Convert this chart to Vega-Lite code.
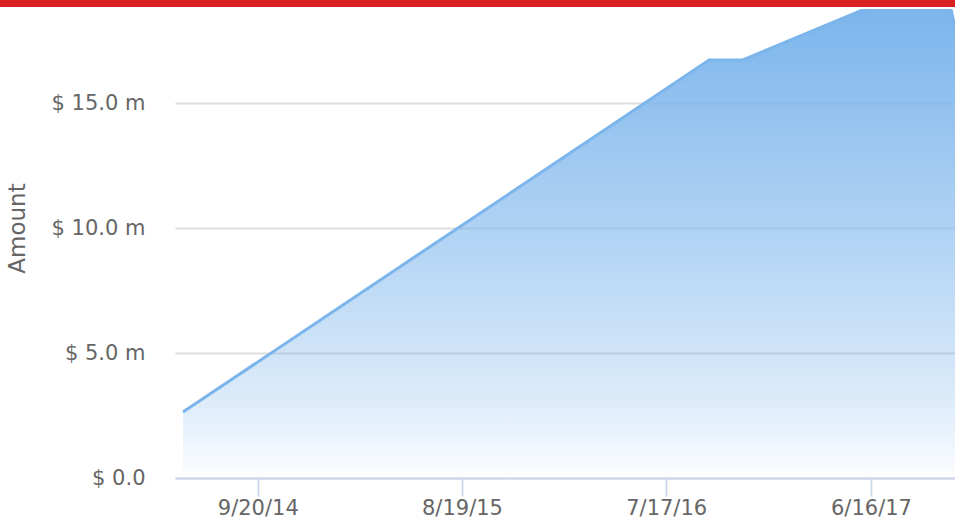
{
  "$schema": "https://vega.github.io/schema/vega-lite/v6.json",
  "padding": {"left": 0, "top": 0, "right": 0, "bottom": 0},
  "background": "white",
  "columns": 2,
  "spacing": {"row": 2, "column": 0},
  "config": {
    "view": {"stroke": null},
    "font": "DejaVu Sans",
    "axis": {"labelFont": "DejaVu Sans", "titleFont": "DejaVu Sans"}
  },
  "datasets": {
    "header": [{"band": "header"}],
    "amounts": [
      {"date": "2014-05-21T00:00:00", "amount": 2.64},
      {"date": "2016-09-25T00:00:00", "amount": 16.72},
      {"date": "2016-11-19T00:00:00", "amount": 16.72},
      {"date": "2017-06-06T00:00:00", "amount": 18.76},
      {"date": "2017-10-24T12:00:00", "amount": 18.76},
      {"date": "2017-11-16T00:00:00", "amount": 16.24}
    ]
  },
  "concat": [
    {
      "width": 175,
      "height": 7,
      "data": {"name": "header"},
      "mark": {"type": "rect", "color": "#da1f21"},
      "encoding": {}
    },
    {
      "width": 780,
      "height": 7,
      "data": {"name": "header"},
      "mark": {"type": "rect", "color": "#da1f21"},
      "encoding": {}
    },
    {
      "width": 175,
      "height": 469,
      "data": {"name": "amounts"},
      "mark": {"type": "rule", "opacity": 0},
      "encoding": {
        "y": {
          "field": "amount",
          "type": "quantitative",
          "scale": {"domain": [0, 18.76], "nice": false, "zero": true},
          "axis": {
            "offset": -175,
            "values": [0, 5, 10, 15],
            "labelExpr": "'$ ' + format(datum.value, '.1f') + (datum.value == 0 ? '' : ' m')",
            "title": "Amount",
            "titleFontSize": 23,
            "titleFontWeight": "normal",
            "titleColor": "#666666",
            "titlePadding": 22,
            "titleY": 219,
            "ticks": false,
            "domain": false,
            "grid": false,
            "labelFontSize": 21,
            "labelColor": "#666666",
            "labelPadding": 30
          }
        }
      }
    },
    {
      "width": 780,
      "height": 469,
      "data": {"name": "amounts"},
      "mark": {
        "type": "area",
        "clip": true,
        "opacity": 1,
        "fill": {
          "gradient": "linear",
          "x1": 0, "y1": 0, "x2": 0, "y2": 1,
          "stops": [
            {"offset": 0, "color": "rgba(124,181,236,1)"},
            {"offset": 0.5, "color": "rgba(124,181,236,0.58)"},
            {"offset": 0.83, "color": "rgba(124,181,236,0.27)"},
            {"offset": 1, "color": "rgba(124,181,236,0.02)"}
          ]
        },
        "line": {"color": "#7cb5ec", "strokeWidth": 3}
      },
      "encoding": {
        "x": {
          "field": "date",
          "type": "temporal",
          "scale": {
            "domain": [
              {"year": 2014, "month": 5, "date": 8},
              {"year": 2017, "month": 10, "date": 31}
            ]
          },
          "axis": {
            "title": null,
            "grid": false,
            "values": [
              {"year": 2014, "month": 9, "date": 20},
              {"year": 2015, "month": 8, "date": 19},
              {"year": 2016, "month": 7, "date": 17},
              {"year": 2017, "month": 6, "date": 16}
            ],
            "format": "%-m/%-d/%y",
            "tickSize": 18,
            "tickColor": "#ccd6eb",
            "tickWidth": 1.8,
            "domainColor": "#ccd6eb",
            "domainWidth": 1.8,
            "labelFontSize": 21,
            "labelColor": "#666666",
            "labelPadding": 1
          }
        },
        "y": {
          "field": "amount",
          "type": "quantitative",
          "scale": {"domain": [0, 18.76], "nice": false, "zero": true},
          "axis": {
            "values": [0, 5, 10, 15],
            "title": null,
            "labels": false,
            "ticks": false,
            "domain": false,
            "grid": true,
            "gridColor": "#dddddd",
            "gridWidth": 1.8
          }
        }
      }
    }
  ]
}
